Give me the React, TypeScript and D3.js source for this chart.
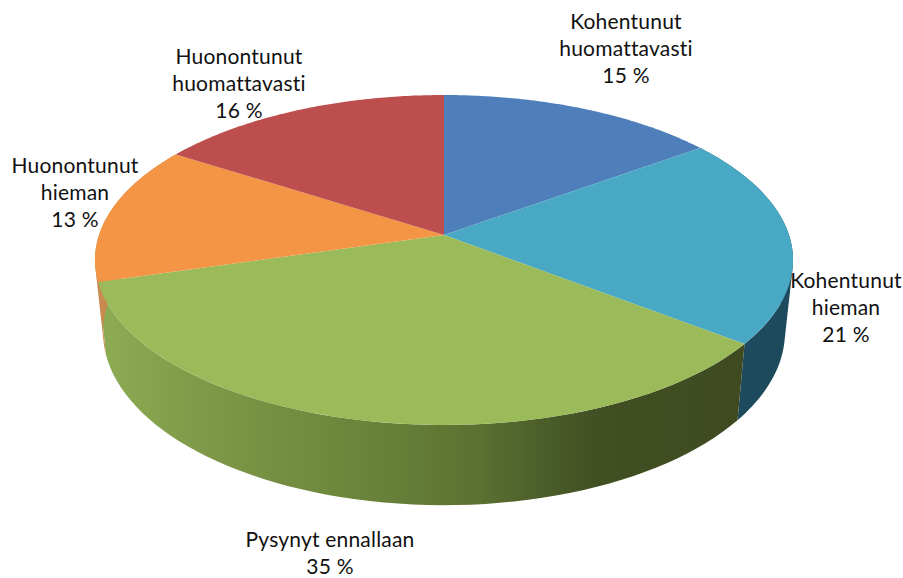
import React from "react";
import * as d3 from "d3";

const categories = ["Kohentunut huomattavasti", "Kohentunut hieman", "Pysynyt ennallaan", "Huonontunut hieman", "Huonontunut huomattavasti"];
const shares = [15.0, 20.5, 35.0, 13.6, 15.9];
const shownPercent = ["15 %", "21 %", "35 %", "13 %", "16 %"];
const topColors = ["#4f7fba", "#49a8c3", "#9bba59", "#f39545", "#bc4f4e"];
const sideColors = ["#2b4a6e", "#1e4a5d", "url(#greenSide)", "#c98a50", "#8a3a38"];
const labelLines = [
  ["Kohentunut", "huomattavasti"],
  ["Kohentunut", "hieman"],
  ["Pysynyt ennallaan"],
  ["Huonontunut", "hieman"],
  ["Huonontunut", "huomattavasti"],
];
const labelX = [626, 846, 330, 75, 239];
const labelBase = [29, 288, 547, 173, 64];
const lineGap = 27;
const greenStops: [number, string][] = [
  [105, "#8cab52"], [200, "#7f9a49"], [300, "#728c40"], [400, "#657f38"],
  [480, "#5b7031"], [540, "#4c5f2a"], [600, "#414f22"], [740, "#3f4a20"],
];

const project = (p: { cy: number; a: number; b: number; k: number }) => (t: number): [number, number] => {
  const u = Math.sin(t), v = -Math.cos(t), w = 1 - p.k * v;
  return [444 + (p.a * u) / w, p.cy + (p.b * v) / w];
};
const topFace = project({ cy: 235, a: 345, b: 161.2, k: 0.1515 });
const bottomFace = project({ cy: 306, a: 337, b: 169, k: 0.1515 });

const arcs = d3.pie<number>().sort(null).value((d) => d)(shares);
const line = d3.line();
const samples = (a: number, b: number, n = 60) => d3.range(n + 1).map((i) => a + ((b - a) * i) / n);

// One path made of consistently wound quads: their union has no seams.
const sidePath = (start: number, end: number) => {
  const ts = samples(start, end);
  return ts.slice(1).map((t, j) => {
    const quad: [number, number][] = [topFace(ts[j]), topFace(t), bottomFace(t), bottomFace(ts[j])];
    if (d3.polygonArea(quad) < 0) quad.reverse();
    return line(quad) + "Z";
  }).join("");
};

export default function App() {
  const gx = d3.scaleLinear().domain([105, 740]).range([0, 1]);
  return (
    <svg width={903} height={578} style={{ position: "absolute", left: 0, top: 0, background: "#fff" }}>
      <defs>
        <linearGradient id="greenSide" gradientUnits="userSpaceOnUse" x1={105} x2={740} y1={0} y2={0}>
          {greenStops.map(([x, c]) => <stop key={x} offset={gx(x)} stopColor={c} />)}
        </linearGradient>
      </defs>
      {arcs.map((s, i) => {
        const hidden = s.startAngle > Math.PI * 1.5 + 0.3 || s.endAngle < Math.PI / 2 - 0.1;
        if (hidden) return null;
        return <path key={i} d={sidePath(s.startAngle, s.endAngle)} fill={sideColors[i]} fillRule="nonzero" />;
      })}
      {arcs.map((s, i) => {
        const ts = samples(s.startAngle, s.endAngle, 90);
        const pts: [number, number][] = [[444, 235], ...ts.map(topFace)];
        return <path key={i} d={line(pts) + "Z"} fill={topColors[i]} />;
      })}
      <g fontFamily="Lato, 'Open Sans', sans-serif" fontSize={21} letterSpacing={0.2} fill="#111" textAnchor="middle">
        {categories.map((c, i) => (
          <text key={c} x={labelX[i]} y={labelBase[i]}>
            {[...labelLines[i], shownPercent[i]].map((t, j) => (
              <tspan key={j} x={labelX[i]} y={labelBase[i] + j * lineGap}>{t}</tspan>
            ))}
          </text>
        ))}
      </g>
    </svg>
  );
}
